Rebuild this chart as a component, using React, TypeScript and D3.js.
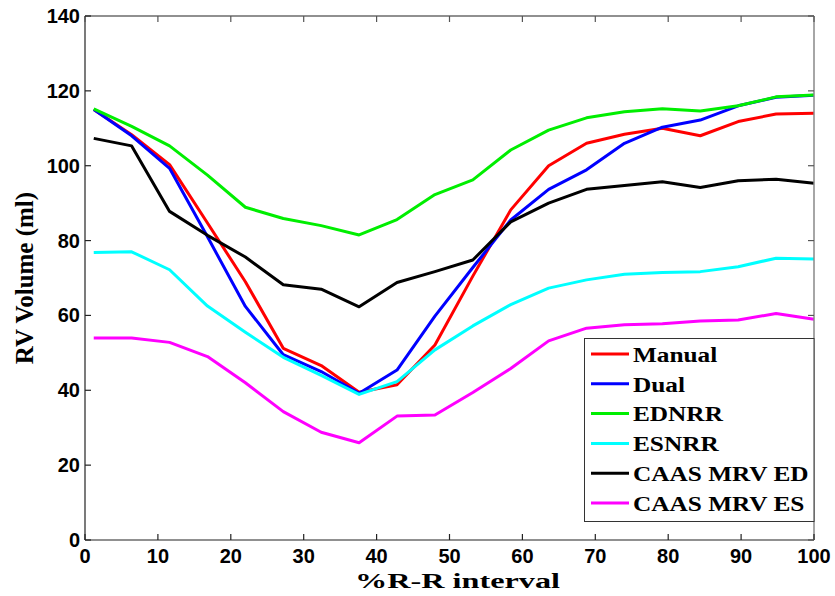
import React, { useEffect, useRef } from "react";
import * as d3 from "d3";

// %R-R interval sample positions
const rrPercent = [1.2, 6.4, 11.6, 16.8, 22, 27.2, 32.4, 37.6, 42.8, 48, 53.2, 58.4, 63.6, 68.8, 74, 79.2, 84.4, 89.6, 94.8, 100];

const manual = [115, 108.3, 100.3, 84.7, 69, 51.2, 46.6, 39.5, 41.5, 52.1, 70.5, 88.2, 100, 106, 108.4, 110, 108, 111.8, 113.8, 114];
const dual = [115, 108, 99.3, 81, 62.4, 49.5, 45, 39.2, 45.4, 59.8, 72.8, 85.5, 93.7, 98.9, 106, 110.3, 112.2, 116, 118.3, 118.8];
const ednrr = [115.2, 110.5, 105.3, 97.5, 88.9, 85.9, 84, 81.5, 85.6, 92.3, 96.2, 104.2, 109.5, 112.8, 114.4, 115.2, 114.6, 116, 118.4, 118.9];
const esnrr = [76.8, 77, 72.2, 62.5, 55.5, 48.8, 44, 38.9, 42.3, 50.8, 57.2, 62.9, 67.3, 69.5, 71, 71.5, 71.7, 73, 75.3, 75.1];
const caasEd = [107.3, 105.3, 87.8, 81.4, 75.6, 68.2, 67, 62.3, 68.8, 71.7, 74.8, 85, 90, 93.7, 94.7, 95.7, 94.2, 96, 96.4, 95.3];
const caasEs = [54, 54, 52.8, 49, 42, 34.3, 28.8, 26, 33.1, 33.4, 39.4, 45.8, 53.2, 56.6, 57.5, 57.8, 58.5, 58.8, 60.5, 59];

const seriesNames = ["Manual", "Dual", "EDNRR", "ESNRR", "CAAS MRV ED", "CAAS MRV ES"];
const seriesColors = ["#ff0000", "#0000ff", "#00ee00", "#00ffff", "#000000", "#ff00ff"];
const seriesValues = [manual, dual, ednrr, esnrr, caasEd, caasEs];

const xTicks = [0, 10, 20, 30, 40, 50, 60, 70, 80, 90, 100];
const yTicks = [0, 20, 40, 60, 80, 100, 120, 140];

const App = () => {
  const svgRef = useRef<SVGSVGElement | null>(null);

  useEffect(() => {
    const width = 835;
    const height = 596;
    const left = 85;
    const right = 814;
    const top = 16;
    const bottom = 540;

    const x = d3.scaleLinear().domain([0, 100]).range([left, right]);
    const y = d3.scaleLinear().domain([0, 140]).range([bottom, top]);

    const svg = d3.select(svgRef.current);
    svg.selectAll("*").remove();
    svg.attr("width", width).attr("height", height);

    svg.append("rect").attr("width", width).attr("height", height).attr("fill", "#fff");

    // series lines
    const line = d3
      .line<number>()
      .x((d, i) => x(rrPercent[i]))
      .y((d) => y(d));

    seriesValues.forEach((vals, k) => {
      svg
        .append("path")
        .datum(vals)
        .attr("d", line)
        .attr("fill", "none")
        .attr("stroke", seriesColors[k])
        .attr("stroke-width", 3)
        .attr("stroke-linejoin", "round");
    });

    // axes box
    const ax = svg.append("g").attr("stroke-width", 1.2).attr("fill", "none");
    ax.append("line").attr("x1", left).attr("x2", right).attr("y1", top).attr("y2", top).attr("stroke", "#222");
    ax.append("line").attr("x1", left).attr("x2", right).attr("y1", bottom).attr("y2", bottom).attr("stroke", "#222");
    ax.append("line").attr("x1", left).attr("x2", left).attr("y1", top).attr("y2", bottom).attr("stroke", "#222");
    ax.append("line").attr("x1", right).attr("x2", right).attr("y1", top).attr("y2", bottom).attr("stroke", "#888").attr("stroke-width", 1.5);

    const tickLen = 6;
    xTicks.forEach((t) => {
      ax.append("line").attr("x1", x(t)).attr("x2", x(t)).attr("y1", bottom).attr("y2", bottom - tickLen).attr("stroke", "#222");
      ax.append("line").attr("x1", x(t)).attr("x2", x(t)).attr("y1", top).attr("y2", top + tickLen).attr("stroke", "#555");
    });
    yTicks.forEach((t) => {
      ax.append("line").attr("x1", left).attr("x2", left + tickLen).attr("y1", y(t)).attr("y2", y(t)).attr("stroke", "#222");
      ax.append("line").attr("x1", right).attr("x2", right - tickLen).attr("y1", y(t)).attr("y2", y(t)).attr("stroke", "#555");
    });

    const tickFont = "'Liberation Sans', Arial, sans-serif";
    svg
      .append("g")
      .selectAll("text")
      .data(xTicks)
      .join("text")
      .attr("x", (d) => x(d))
      .attr("y", 563)
      .attr("text-anchor", "middle")
      .attr("font-family", tickFont)
      .attr("font-weight", "bold")
      .attr("font-size", 20)
      .text((d) => d);

    svg
      .append("g")
      .selectAll("text")
      .data(yTicks)
      .join("text")
      .attr("x", 80)
      .attr("y", (d) => y(d))
      .attr("dy", "0.35em")
      .attr("text-anchor", "end")
      .attr("font-family", tickFont)
      .attr("font-weight", "bold")
      .attr("font-size", 20)
      .text((d) => d);

    const serif = "'Liberation Serif', 'Times New Roman', serif";
    svg
      .append("text")
      .attr("x", 355)
      .attr("y", 588)
      .attr("font-family", serif)
      .attr("font-weight", "bold")
      .attr("font-size", 22)
      .attr("textLength", 205)
      .attr("lengthAdjust", "spacingAndGlyphs")
      .text("%R-R interval");

    svg
      .append("text")
      .attr("transform", `translate(33, ${(top + bottom) / 2}) rotate(-90)`)
      .attr("text-anchor", "middle")
      .attr("font-family", serif)
      .attr("font-weight", "bold")
      .attr("font-size", 25)
      .text("RV Volume (ml)");

    // legend
    const lg = svg.append("g");
    lg.append("rect")
      .attr("x", 584.5)
      .attr("y", 338.5)
      .attr("width", right - 584.5)
      .attr("height", 183)
      .attr("fill", "#fff")
      .attr("stroke", "#333")
      .attr("stroke-width", 1);

    seriesNames.forEach((name, k) => {
      const cy = 354 + k * 29.8;
      lg.append("line")
        .attr("x1", 591)
        .attr("x2", 629)
        .attr("y1", cy)
        .attr("y2", cy)
        .attr("stroke", seriesColors[k])
        .attr("stroke-width", 3);
      lg.append("text")
        .attr("transform", `translate(633, ${cy}) scale(1.15, 1)`)
        .attr("dy", "0.35em")
        .attr("font-family", serif)
        .attr("font-weight", "bold")
        .attr("font-size", 22)
        .text(name);
    });
  }, []);

  return (
    <svg ref={svgRef} style={{ position: "absolute", left: 0, top: 0 }}></svg>
  );
};

export default App;
